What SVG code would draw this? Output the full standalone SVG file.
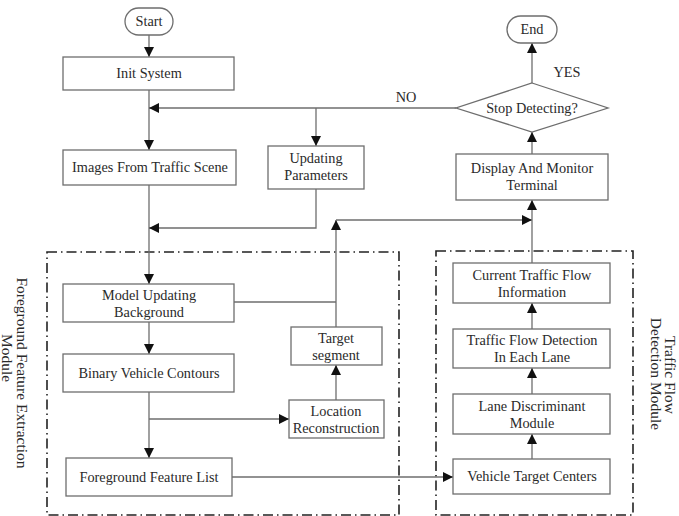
<svg xmlns="http://www.w3.org/2000/svg" width="679" height="516" viewBox="0 0 679 516">
  <defs>
    <marker id="arr" viewBox="0 0 10 10" refX="10" refY="5" markerWidth="10" markerHeight="10" markerUnits="userSpaceOnUse" orient="auto">
      <path d="M0,0 L10,5 L0,10 Z" fill="#111"/>
    </marker>
  </defs>
  <style>
    .box { fill: #fff; stroke: #6e6e6e; stroke-width: 1.3; }
    .term { fill: #fff; stroke: #6e6e6e; stroke-width: 1.3; }
    .lbl { font-family: "Liberation Serif", "Times New Roman", serif; font-size: 14.3px; fill: #2a2a2a; text-anchor: middle; }
    .side { font-family: "Liberation Serif", "Times New Roman", serif; font-size: 15.5px; fill: #2a2a2a; text-anchor: middle; }
    .wire { fill: none; stroke: #6e6e6e; stroke-width: 1.3; }
    .wire.a { marker-end: url(#arr); }
    .frame { fill: none; stroke: #222; stroke-width: 1.6; stroke-dasharray: 10 4 1.5 4; }
  </style>
  <rect width="679" height="516" fill="#fff"/>

  <!-- module frames -->
  <g id="frames">
    <rect class="frame" x="47" y="252" width="352" height="263"/>
    <rect class="frame" x="436" y="251" width="197" height="264"/>
  </g>

  <!-- connectors -->
  <g id="connectors">
    <path class="wire a" d="M149 35 V57"/>
    <path class="wire a" d="M149 90 V150"/>
    <path class="wire a" d="M456 108 H149"/>
    <path class="wire a" d="M316 108 V146"/>
    <path class="wire a" d="M149 185 V284"/>
    <path class="wire a" d="M316 189 V228 H149"/>
    <path class="wire" d="M234 302 H336"/>
    <path class="wire a" d="M336 327 V220"/>
    <path class="wire a" d="M336 220 H532"/>
    <path class="wire a" d="M532 263 V200"/>
    <path class="wire a" d="M149 322 V354"/>
    <path class="wire a" d="M149 392 V458"/>
    <path class="wire a" d="M149 419 H289"/>
    <path class="wire a" d="M336 400 V365"/>
    <path class="wire a" d="M232 477 H453"/>
    <path class="wire a" d="M532 459 V434"/>
    <path class="wire a" d="M532 394 V368"/>
    <path class="wire a" d="M532 329 V303"/>
    <path class="wire a" d="M532 154 V132"/>
    <path class="wire a" d="M532 83 V43"/>
    <text class="lbl" x="406" y="102">NO</text>
    <text class="lbl" x="567" y="77">YES</text>
  </g>

  <!-- nodes -->
  <g id="start">
    <rect class="term" x="125" y="8" width="48" height="27" rx="13.5"/>
    <text class="lbl" x="149" y="26">Start</text>
  </g>
  <g id="init-system">
    <rect class="box" x="63" y="57" width="171" height="33"/>
    <text class="lbl" x="149" y="78">Init System</text>
  </g>
  <g id="images">
    <rect class="box" x="63" y="150" width="173" height="35"/>
    <text class="lbl" x="150" y="172">Images From Traffic Scene</text>
  </g>
  <g id="updating-parameters">
    <rect class="box" x="268" y="146" width="96" height="43"/>
    <text class="lbl" x="316" y="163">Updating</text>
    <text class="lbl" x="316" y="180">Parameters</text>
  </g>
  <g id="model-updating">
    <rect class="box" x="63" y="284" width="171" height="38"/>
    <text class="lbl" x="149" y="300">Model Updating</text>
    <text class="lbl" x="149" y="317">Background</text>
  </g>
  <g id="binary-contours">
    <rect class="box" x="63" y="354" width="171" height="38"/>
    <text class="lbl" x="149" y="378">Binary Vehicle Contours</text>
  </g>
  <g id="foreground-list">
    <rect class="box" x="66" y="458" width="166" height="38"/>
    <text class="lbl" x="149" y="482">Foreground Feature List</text>
  </g>
  <g id="target-segment">
    <rect class="box" x="291" y="327" width="91" height="38"/>
    <text class="lbl" x="336" y="343">Target</text>
    <text class="lbl" x="336" y="360">segment</text>
  </g>
  <g id="location-reconstruction">
    <rect class="box" x="289" y="400" width="95" height="38"/>
    <text class="lbl" x="336" y="416">Location</text>
    <text class="lbl" x="336" y="433">Reconstruction</text>
  </g>
  <g id="end">
    <rect class="term" x="507" y="16" width="50" height="27" rx="13.5"/>
    <text class="lbl" x="532" y="34">End</text>
  </g>
  <g id="stop-detecting">
    <polygon class="box" points="532,83 608,108 532,132 456,108"/>
    <text class="lbl" x="532" y="113">Stop Detecting?</text>
  </g>
  <g id="display-monitor">
    <rect class="box" x="456" y="154" width="152" height="46"/>
    <text class="lbl" x="532" y="173">Display And  Monitor</text>
    <text class="lbl" x="532" y="190">Terminal</text>
  </g>
  <g id="current-flow">
    <rect class="box" x="453" y="263" width="157" height="40"/>
    <text class="lbl" x="532" y="280">Current Traffic Flow</text>
    <text class="lbl" x="532" y="297">Information</text>
  </g>
  <g id="flow-detection">
    <rect class="box" x="453" y="329" width="157" height="39"/>
    <text class="lbl" x="532" y="345">Traffic Flow Detection</text>
    <text class="lbl" x="532" y="362">In Each Lane</text>
  </g>
  <g id="lane-discriminant">
    <rect class="box" x="453" y="394" width="157" height="40"/>
    <text class="lbl" x="532" y="411">Lane Discriminant</text>
    <text class="lbl" x="532" y="428">Module</text>
  </g>
  <g id="vehicle-centers">
    <rect class="box" x="453" y="459" width="157" height="35"/>
    <text class="lbl" x="532" y="481">Vehicle Target Centers</text>
  </g>

  <!-- module captions, set vertically -->
  <g id="caption-foreground">
    <text class="side" transform="translate(22 373) rotate(90)" y="5">Foreground Feature Extraction</text>
    <text class="side" transform="translate(7 358) rotate(90)" y="5">Module</text>
  </g>
  <g id="caption-traffic">
    <text class="side" transform="translate(670 375) rotate(90)" y="5">Traffic Flow</text>
    <text class="side" transform="translate(656 374) rotate(90)" y="5">Detection Module</text>
  </g>
</svg>
